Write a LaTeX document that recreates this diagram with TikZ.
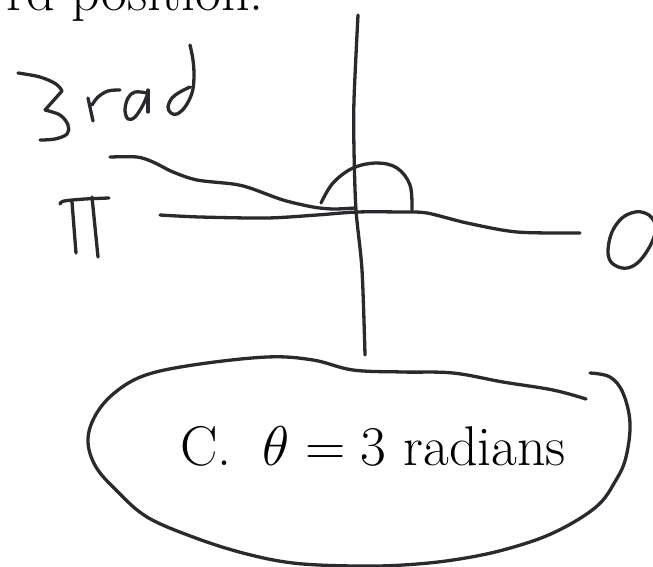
\RequirePackage{fix-cm}
\documentclass[tikz,border=0pt]{standalone}
\definecolor{ink}{HTML}{2A2A2E}
\tikzset{
  pen/.style={draw=ink, line width=3.3pt, line cap=round, line join=round},
  bigtext/.style={inner sep=0pt, font=\fontsize{56}{66}\selectfont}
}
\begin{document}
\begin{tikzpicture}[x=1pt,y=-1pt]
\useasboundingbox (0,0) rectangle (653,566);
\clip (0,0) rectangle (653,566);
\fill[white] (0,0) rectangle (653,566);
% cut-off heading text
\node[bigtext, anchor=base east] (head) at (264,10) {rd position.};
% handwritten "3rad"
\draw[pen] plot[smooth, tension=0.6] coordinates {(18,73) (40,77) (56,84) (62,91)} -- (45,110)
  plot[smooth, tension=0.6] coordinates {(45,110) (60,115) (68,125) (67,134) (55,139) (40,140)};
\draw[pen] (88,98) -- (93,121);
\draw[pen] plot[smooth, tension=0.6] coordinates {(92,105) (98,97) (108,91) (120,90)};
\draw[pen] plot[smooth, tension=0.6] coordinates {(147,93) (135,92) (128,98) (125,110) (128,119) (135,117) (143,105) (148,93)};
\draw[pen] (148,90) -- (148,112);
\draw[pen] plot[smooth, tension=0.6] coordinates {(190,45) (193,60) (194,77) (192,93) (185,107) (177,114) (171,113) (168,107) (172,98) (180,92) (190,87)};
% pi label
\draw[pen] plot[smooth, tension=0.5] coordinates {(60,204) (64,201) (85,199) (109,198)};
\draw[pen] (72,202) -- (76,253);
\draw[pen] (92,197) -- (98,257);
% O label
\draw[pen] plot[smooth cycle, tension=0.6] coordinates {(622,268) (611,262) (608,250) (612,232) (622,218) (635,212) (645,213) (652,218) (656,228) (652,242) (643,257) (633,266)};
% vertical axis
\draw[pen] plot[smooth, tension=0.5] coordinates {(358,15) (354,100) (354,150) (356,210) (362,270) (365,355)};
% horizontal axis
\draw[pen] plot[smooth, tension=0.5] coordinates {(160,215) (200,217) (267,218) (317,215) (357,212) (400,212) (427,213) (467,223) (517,232) (580,233)};
% terminal side
\draw[pen] plot[smooth, tension=0.5] coordinates {(110,157) (137,157) (153,162) (173,172) (197,180) (233,184) (250,188) (283,200) (313,207) (333,209) (355,208)};
% angle arc
\draw[pen] plot[smooth, tension=0.6] coordinates {(321,203) (333,183) (353,168) (377,163) (397,168) (410,185) (412,210)};
% answer
\node[bigtext, anchor=base west] (ans) at (180,465) {C.\hspace{0.55em}$\theta = 3$ radians};
% circling stroke
\draw[pen] plot[smooth, tension=0.6] coordinates {(586,399) (553,390) (503,382) (453,373) (403,372) (353,370) (313,360) (267,357) (193,365) (143,376) (112,395) (94,418) (88,442) (96,467) (117,491) (147,517) (193,537) (243,553) (293,563) (353,566) (403,565) (453,560) (503,550) (553,533) (596,507) (616,480) (626,457) (630,423) (623,393) (610,377) (590,373)};
\end{tikzpicture}
\end{document}
